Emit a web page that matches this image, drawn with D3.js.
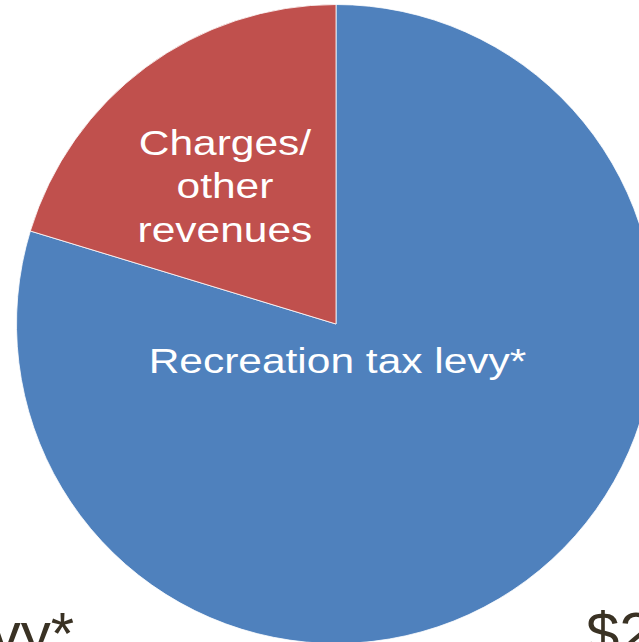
<!DOCTYPE html>
<html>
<head>
<meta charset="utf-8">
<script src="https://cdn.jsdelivr.net/npm/d3@7"></script>
<style>
  html, body { margin: 0; padding: 0; background: #ffffff; overflow: hidden; }
  svg { display: block; }
</style>
</head>
<body>
<svg id="chart" width="639" height="642"></svg>
<script>
// Revenue sources (share of total, %)
const categories = ["Recreation tax levy*", "Charges/ other revenues"];
const values = [79.7, 20.3];
const colors = ["#4F81BD", "#C0504D"];
// Slice labels, one line per entry
const labelLines = [["Recreation tax levy*"], ["Charges/", "other", "revenues"]];
// Neighbouring slide text, partly cut off by the frame
const sideTexts = ["levy*", "$2"];

const W = 639, H = 642;
const cx = 336, cy = 324, R = 319.5;

const svg = d3.select("#chart");

const data = categories.map((c, i) => ({ category: c, value: values[i], color: colors[i], lines: labelLines[i] }));

const pie = d3.pie().sort(null).value(d => d.value);
const arc = d3.arc().innerRadius(0).outerRadius(R);

const g = svg.append("g").attr("transform", `translate(${cx},${cy})`);
const arcs = pie(data);

g.selectAll("path.slice")
  .data(arcs)
  .join("path")
  .attr("class", "slice")
  .attr("d", arc)
  .attr("fill", d => d.data.color)
  .attr("stroke", "#ffffff")
  .attr("stroke-width", 0.8);

// Label placement: slice centroid, then nudged per slice.
// Labels use a slightly widened face (horizontal stretch).
const labelArc = d3.arc().innerRadius(0).outerRadius(R * 0.72);
const fontSize = 36;
const stretch = 1.18;
const lineGap = 43.5;
const offsets = [[1.5, 49], [-42.6, -33.5]];

arcs.forEach((a, i) => {
  let [lx, ly] = i === 0 ? [0, 0] : labelArc.centroid(a);
  lx += offsets[i][0];
  ly += offsets[i][1];
  const lines = a.data.lines;
  const t = g.append("text")
    .attr("text-anchor", "middle")
    .attr("fill", "#ffffff")
    .style("font-family", "'Liberation Sans', Arial, sans-serif")
    .style("font-size", fontSize + "px")
    .attr("transform", `translate(${lx},${ly}) scale(${stretch},1)`);
  lines.forEach((ln, k) => {
    t.append("tspan")
      .attr("x", 0)
      .attr("y", (k - (lines.length - 1) / 2) * lineGap)
      .text(ln);
  });
});

// Clipped slide text at the bottom corners
svg.append("text")
  .attr("x", 74).attr("y", 654)
  .attr("text-anchor", "end")
  .attr("fill", "#3A3224")
  .style("font-family", "'Liberation Sans', Arial, sans-serif")
  .style("font-size", "60px")
  .text(sideTexts[0]);

svg.append("text")
  .attr("x", 586).attr("y", 654)
  .attr("text-anchor", "start")
  .attr("fill", "#3A3224")
  .style("font-family", "'Liberation Sans', Arial, sans-serif")
  .style("font-size", "60px")
  .text(sideTexts[1]);
</script>
</body>
</html>
